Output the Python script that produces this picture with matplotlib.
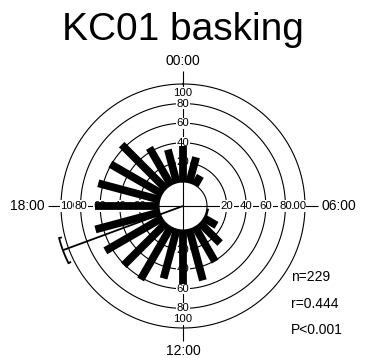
import numpy as np
import matplotlib
matplotlib.use("Agg")
import matplotlib.pyplot as plt

plt.rcParams['font.family'] = ['Liberation Sans', 'DejaVu Sans']

# hourly counts, 00h .. 23h
hours = list(range(24))
counts = [37, 27, 11, 0, 0, 0, 0, 2, 15, 29, 41, 54,
          55, 52, 62, 61, 67, 68, 65, 65, 61, 64, 44, 35]
ring_values = [20, 40, 60, 80, 100]
ring_labels = ['20', '40', '60', '80', '100']
hour_labels = ['00:00', '06:00', '12:00', '18:00']
mean_deg = 249.8
ci_deg = [243.5, 255.5]
stats = ['n=229', 'r=0.444', 'P<0.001']
title = 'KC01 basking'

W, H = 369, 358
CX, CY = 183, 206          # centre in pixels
PX = 0.98                  # pixels per value unit
HOLE = 24.5                # empty centre, in value units
RMAX = 145
R_px = RMAX * PX

fig = plt.figure(figsize=(W / 100, H / 100), dpi=100)
ax = fig.add_axes([(CX - R_px) / W, (H - CY - R_px) / H, 2 * R_px / W, 2 * R_px / H],
                  projection='polar')
ax.set_theta_zero_location('N')
ax.set_theta_direction(-1)
ax.set_ylim(0, RMAX)
ax.axis('off')

th = np.linspace(0, 2 * np.pi, 400)
# rings + hole
for v in [0] + ring_values:
    ax.plot(th, np.full_like(th, HOLE + v), color='black', lw=0.8, zorder=1)

# axis lines
outer = HOLE + 100 + 13
axis_angles = np.radians([0, 90, 180, 270])
ax.vlines(axis_angles, 0, outer, colors='black', lw=0.8, zorder=1.5)

# ring labels (outer first so inner ones sit on top)
for a in axis_angles:
    for v, lab in reversed(list(zip(ring_values, ring_labels))):
        pos = 91 if v == 100 else v
        ax.text(a, HOLE + pos, lab, fontsize=8.2, ha='center', va='center',
                zorder=2, bbox=dict(boxstyle='square,pad=0.05', fc='white', ec='none'))

# bars
theta = np.radians(np.array(hours) * 15)
ax.vlines(theta, HOLE, HOLE + np.array(counts), colors='black', lw=5.6,
          capstyle='butt', zorder=3)

# hour labels
rl = 141
ax.text(0, rl, hour_labels[0], fontsize=10, ha='center', va='bottom')
ax.text(np.pi / 2, rl, hour_labels[1], fontsize=10, ha='left', va='center')
ax.text(np.pi, rl, hour_labels[2], fontsize=10, ha='center', va='top')
ax.text(3 * np.pi / 2, rl, hour_labels[3], fontsize=10, ha='right', va='center')

# mean vector with confidence bracket
rb = 130.6
m = np.radians(mean_deg)
ax.vlines([m], 0, rb, colors='black', lw=1.3, zorder=4)
arc = np.radians(np.linspace(ci_deg[0], ci_deg[1], 30))
ax.plot(arc, np.full_like(arc, rb), color='black', lw=1.3, zorder=4)
ax.vlines(np.radians(ci_deg), rb - 3, rb, colors='black', lw=1.3, zorder=4)

fig.text(CX / W, 1 - 40 / H, title, fontsize=28, ha='center', va='baseline')
for i, s in enumerate(stats):
    fig.text(291 / W, 1 - (277 + 26.5 * i) / H, s, fontsize=10, ha='left', va='center')

fig.savefig('out.png', dpi=100)
